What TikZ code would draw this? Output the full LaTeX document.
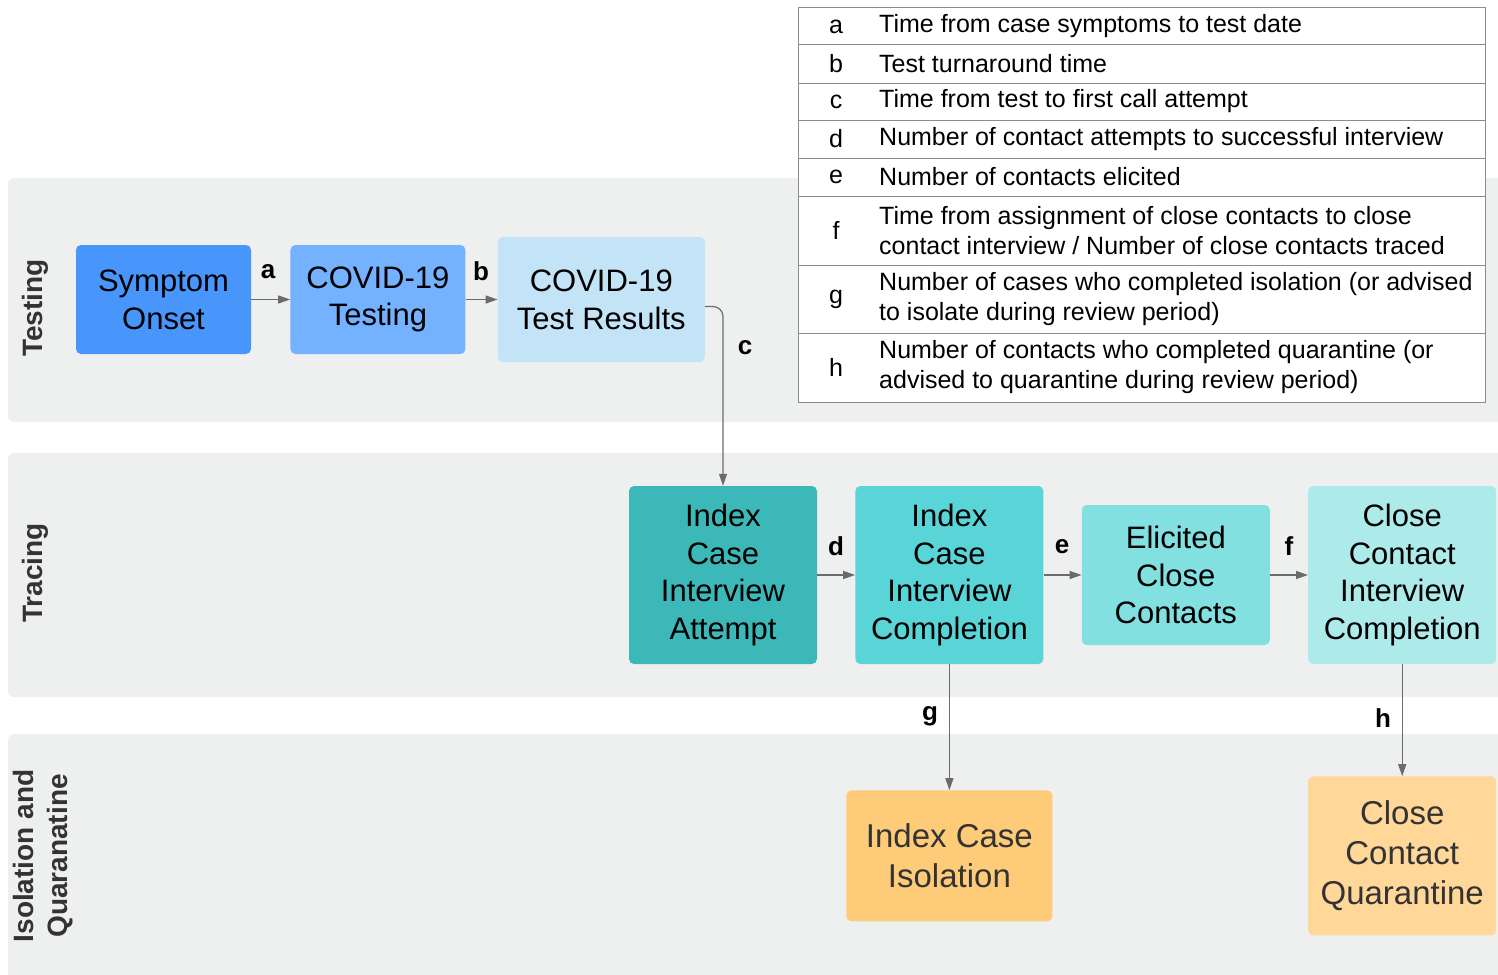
\documentclass[tikz,border=0pt]{standalone}
\usepackage{fontspec}
\setmainfont{Liberation Sans}
\usetikzlibrary{arrows.meta,positioning}
\definecolor{LaneGray}{HTML}{EEF0EF}
\definecolor{TextGray}{HTML}{333333}
\definecolor{ArrowGray}{HTML}{6B6B6B}
\definecolor{TableGray}{HTML}{8C8C8C}
\definecolor{OnsetBlue}{HTML}{4896FC}
\definecolor{TestBlue}{HTML}{74B1FF}
\definecolor{ResultBlue}{HTML}{C3E3F6}
\definecolor{AttemptTeal}{HTML}{3DB8B9}
\definecolor{DoneTeal}{HTML}{59D5D8}
\definecolor{ElicitTeal}{HTML}{82E0E0}
\definecolor{ContactTeal}{HTML}{ADEBEA}
\definecolor{IsoOrange}{HTML}{FECB78}
\definecolor{QuarOrange}{HTML}{FFD799}

\begin{document}
\begin{tikzpicture}[
    x=1pt,y=-1pt,
    node distance=38pt,
    box/.style={rounded corners=5pt,align=center,inner sep=0pt,text=black,font=\fontsize{31}{37.7}\selectfont},
    wide/.style={box,minimum width=175pt,minimum height=109pt},
    tall/.style={box,minimum width=188pt,minimum height=178pt},
    outbox/.style={box,text=TextGray,font=\fontsize{33}{40}\selectfont},
    lane/.style={fill=LaneGray,rounded corners=6pt},
    lanelabel/.style={rotate=90,align=center,text=TextGray,font=\bfseries\fontsize{28}{34}\selectfont},
    arr/.style={-{Triangle[length=12pt,width=8pt]},line width=1.2pt,draw=ArrowGray},
    tag/.style={font=\bfseries\fontsize{26}{30}\selectfont},
    cell/.style={inner sep=0pt,align=left,font=\fontsize{25}{30}\selectfont}
  ]
    \useasboundingbox (0,0) rectangle (1498,974);

    % swim lanes
    \fill[lane] (8,178) rectangle (1520,422);
    \fill[lane] (8,453) rectangle (1520,697);
    \fill[lane] (8,734) rectangle (1520,1000);
    \node[lanelabel] (testlane) at (35,308) {Testing};
    \node[lanelabel] (tracelane) at (35,573) {Tracing};
    \node[lanelabel] (isolane) at (43,856) {Isolation and\\Quaranatine};

    % legend
    \draw[TableGray,fill=white,line width=1pt] (798,8) rectangle (1485,402);
    \foreach \y in {45,83,120,158,196,265,333}
      \draw[TableGray,line width=1pt] (798,\y) -- (1485,\y);
    \foreach \k/\y/\t in {a/26.5/{Time from case symptoms to test date},
        b/64/{Test turnaround time},
        c/101.5/{Time from test to first call attempt},
        d/139/{Number of contact attempts to successful interview},
        e/177/{Number of contacts elicited},
        f/230.5/{Time from assignment of close contacts to close\\contact interview / Number of close contacts traced},
        g/299/{Number of cases who completed isolation (or advised\\to isolate during review period)},
        h/367.5/{Number of contacts who completed quarantine (or\\advised to quarantine during review period)}}{
      \node[cell] (key\k) at (836,\y) {\k};
      \node[cell,anchor=west] (desc\k) at (879,\y) {\t};
    }

    % testing
    \node[wide,fill=OnsetBlue] (onset) at (163.5,299.5) {Symptom\\Onset};
    \node[wide,fill=TestBlue,right=39pt of onset] (testing) {COVID-19\\Testing};
    \node[box,fill=ResultBlue,minimum width=207pt,minimum height=125pt,right=32pt of testing] (results) {COVID-19\\Test Results};
    \draw[arr] (onset)--(testing);
    \draw[arr] (testing)--(results);
    \node[tag] (la) at (268,272) {a};
    \node[tag] (lb) at (481,271) {b};

    % tracing
    \node[tall,fill=AttemptTeal] (attempt) at (723,575) {Index\\Case\\Interview\\Attempt};
    \node[tall,fill=DoneTeal,right=of attempt] (completion) {Index\\Case\\Interview\\Completion};
    \node[box,fill=ElicitTeal,minimum width=188pt,minimum height=140pt,right=of completion] (elicited) {Elicited\\Close\\Contacts};
    \node[tall,fill=ContactTeal,right=of elicited] (ccinterview) {Close\\Contact\\Interview\\Completion};
    \draw[arr,rounded corners=10pt] ([yshift=-7pt]results.east) -| (attempt.north);
    \draw[arr] (attempt)--(completion);
    \draw[arr] (completion)--(elicited);
    \draw[arr] (elicited)--(ccinterview);
    \node[tag] (lc) at (745,348) {c};
    \node[tag] (ld) at (836,546) {d};
    \node[tag] (le) at (1062,547) {e};
    \node[tag] (lf) at (1289,546) {f};

    % isolation and quarantine
    \node[outbox,fill=IsoOrange,minimum width=206pt,minimum height=131pt,below=126pt of completion] (isolation) {Index Case\\Isolation};
    \node[outbox,fill=QuarOrange,minimum width=188pt,minimum height=159pt,below=112pt of ccinterview] (quarantine) {Close\\Contact\\Quarantine};
    \draw[arr] (completion)--(isolation);
    \draw[arr] (ccinterview)--(quarantine);
    \node[tag] (lg) at (930,716) {g};
    \node[tag] (lh) at (1383,718) {h};
  \end{tikzpicture}
\end{document}
